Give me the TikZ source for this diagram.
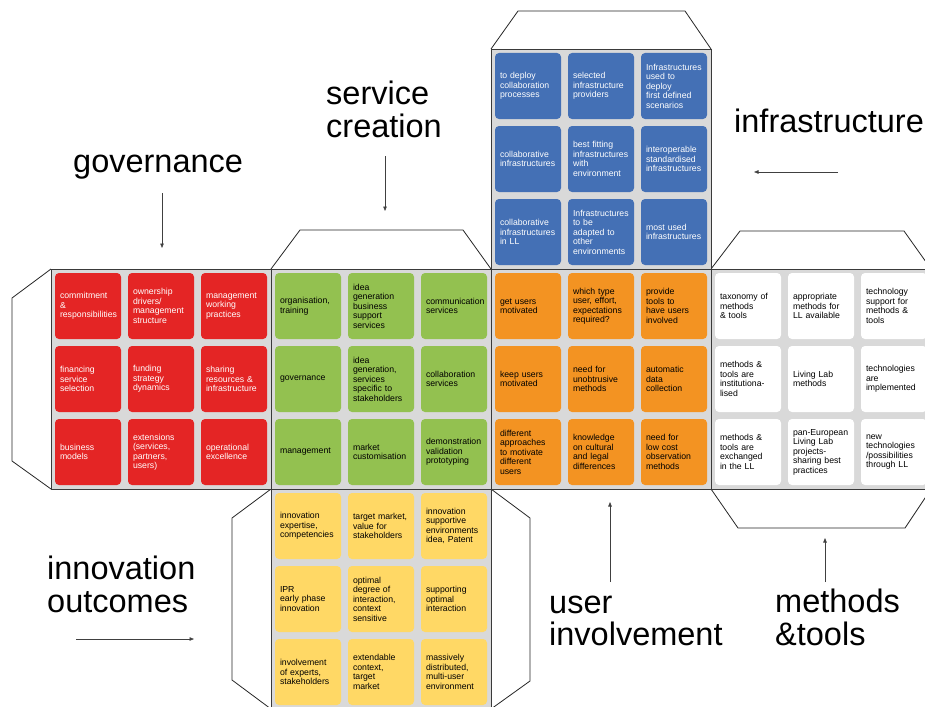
\documentclass[tikz,border=0pt]{standalone}
\usepackage{fontspec}
\setmainfont{Liberation Sans}
\usetikzlibrary{arrows.meta}
\definecolor{gvred}{HTML}{E42525}
\definecolor{scgreen}{HTML}{93C150}
\definecolor{uiorange}{HTML}{F39322}
\definecolor{infblue}{HTML}{4470B5}
\definecolor{inyellow}{HTML}{FFD865}
\definecolor{facegrey}{HTML}{D9D9D9}
\definecolor{faceline}{HTML}{3A3A3A}
\tikzset{
  facebg/.style={fill=facegrey, draw=faceline, line width=1.2pt, rectangle, minimum width=220pt, minimum height=220pt, anchor=north west, inner sep=0pt},
  flap/.style={fill=white, draw=black!85, line width=0.8pt},
  tile/.style={rectangle, rounded corners=4pt, minimum width=66pt, minimum height=66pt, text width=56pt, inner xsep=5pt, inner ysep=2pt, align=left, font=\fontsize{8.7}{9.5}\selectfont},
  redtile/.style={tile, fill=gvred, text=white},
  greentile/.style={tile, fill=scgreen, text=black},
  orangetile/.style={tile, fill=uiorange, text=black},
  bluetile/.style={tile, fill=infblue, text=white},
  yellowtile/.style={tile, fill=inyellow, text=black},
  whitetile/.style={tile, fill=white, text=black},
  bigtext/.style={font=\fontsize{32.5}{32.5}\selectfont, inner sep=0pt, anchor=base west},
  pointer/.style={draw=black!75, line width=0.7pt, -{Triangle[length=4.5pt,width=3.5pt]}}
}
\newcommand\cubeface[5]{%
  \node[facebg] (#1) at (#2,#3) {};
  \foreach \ttxt [count=\tk from 0] in {#5} {
    \pgfmathtruncatemacro\tcol{mod(\tk,3)}
    \pgfmathtruncatemacro\trow{div(\tk,3)}
    \node[#4] (#1-\trow-\tcol) at ({#2+37+73*\tcol},{#3+37+73*\trow}) {\ttxt};
  }
}
\begin{document}
\begin{tikzpicture}[x=1pt, y=-1pt]
\useasboundingbox (0,0) rectangle (925,706);
\clip (0,0) rectangle (925,706);
\fill[white] (0,0) rectangle (925,706);

% flaps
\draw[flap] (51,269) -- (12,298) -- (12,461) -- (51,489);
\draw[flap] (271,269) -- (300,230) -- (463,230) -- (491,269);
\draw[flap] (491,49) -- (518,11) -- (685,11) -- (711,49);
\draw[flap] (711,269) -- (740,231) -- (904,231) -- (931,269);
\draw[flap] (711,489) -- (738,528) -- (905,528) -- (931,489);
\draw[flap] (271,489) -- (232,518) -- (232,680) -- (271,709);
\draw[flap] (491,489) -- (530,518) -- (530,681) -- (491,709);

% faces
\cubeface{gov}{51}{269}{redtile}{%
  {commitment\\\&\\responsibilities},{ownership\\drivers/\\management\\structure},{management\\working\\practices},
  {financing\\service\\selection},{funding\\strategy\\dynamics},{sharing\\resources \&\\infrastructure},
  {business\\models},{extensions\\(services,\\partners,\\users)},{operational\\excellence}}
\cubeface{srv}{271}{269}{greentile}{%
  {organisation,\\training},{idea\\generation\\business\\support\\services},{communication\\services},
  {governance},{idea\\generation,\\services\\specific to\\stakeholders},{collaboration\\services},
  {management},{market\\customisation},{demonstration\\validation\\prototyping}}
\cubeface{usr}{491}{269}{orangetile}{%
  {get users\\motivated},{which type\\user, effort,\\expectations\\required?},{provide\\tools to\\have users\\involved},
  {keep users\\motivated},{need for\\unobtrusive\\methods},{automatic\\data\\collection},
  {different\\approaches\\to motivate\\different\\users},{knowledge\\on cultural\\and legal\\differences},{need for\\low cost\\observation\\methods}}
\cubeface{mth}{711}{269}{whitetile}{%
  {taxonomy of\\methods\\\& tools},{appropriate\\methods for\\LL available},{technology\\support for\\methods \&\\tools},
  {methods \&\\tools are\\institutiona-\\lised},{Living Lab\\methods},{technologies\\are\\implemented},
  {methods \&\\tools are\\exchanged\\in the LL},{pan-European\\Living Lab\\projects-\\sharing best\\practices},{new\\technologies\\/possibilities\\through LL}}
\cubeface{inf}{491}{49}{bluetile}{%
  {to deploy\\collaboration\\processes},{selected\\infrastructure\\providers},{Infrastructures\\used to\\deploy\\first defined\\scenarios},
  {collaborative\\infrastructures},{best fitting\\infrastructures\\with\\environment},{interoperable\\standardised\\infrastructures},
  {collaborative\\infrastructures\\in LL},{Infrastructures\\to be\\adapted to\\other\\environments},{most used\\infrastructures}}
\cubeface{inn}{271}{489}{yellowtile}{%
  {innovation\\expertise,\\competencies},{target market,\\value for\\stakeholders},{innovation\\supportive\\environments\\idea, Patent},
  {IPR\\early phase\\innovation},{optimal\\degree of\\interaction,\\context\\sensitive},{supporting\\optimal\\interaction},
  {involvement\\of experts,\\stakeholders},{extendable\\context,\\target\\market},{massively\\distributed,\\multi-user\\environment}}

% labels
\node[bigtext] (lgov) at (73,172) {governance};
\node[bigtext] (lsrv1) at (326,105) {service};
\node[bigtext] (lsrv2) at (326,137) {creation};
\node[bigtext] (linf) at (734,132) {infrastructure};
\node[bigtext] (linn1) at (47,579) {innovation};
\node[bigtext] (linn2) at (47,612) {outcomes};
\node[bigtext] (lusr1) at (549,613) {user};
\node[bigtext] (lusr2) at (549,645) {involvement};
\node[bigtext] (lmth1) at (775,612) {methods};
\node[bigtext] (lmth2) at (775,645) {\&tools};

% arrows
\coordinate (govA) at (162,193); \coordinate (govB) at (162,248);
\coordinate (srvA) at (385,156); \coordinate (srvB) at (385,211);
\coordinate (infA) at (838,172); \coordinate (infB) at (754,172);
\coordinate (innA) at (76,639);  \coordinate (innB) at (194,639);
\coordinate (usrA) at (610,582); \coordinate (usrB) at (610,502);
\coordinate (mthA) at (825,582); \coordinate (mthB) at (825,538);
\draw[pointer] (govA) -- (govB);
\draw[pointer] (srvA) -- (srvB);
\draw[pointer] (infA) -- (infB);
\draw[pointer] (innA) -- (innB);
\draw[pointer] (usrA) -- (usrB);
\draw[pointer] (mthA) -- (mthB);
\end{tikzpicture}
\end{document}
